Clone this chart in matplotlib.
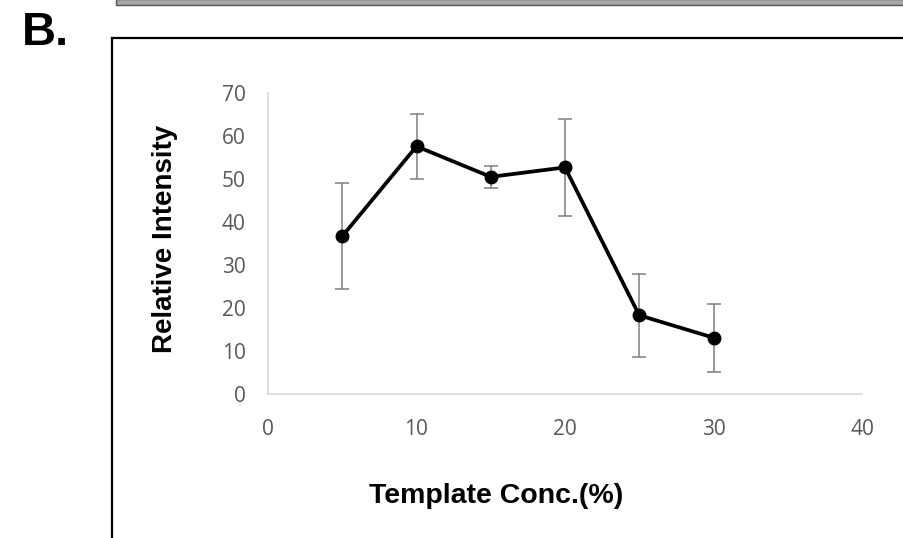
import matplotlib
matplotlib.use("Agg")
import matplotlib.pyplot as plt
from matplotlib.patches import Rectangle
from matplotlib.lines import Line2D

# data
conc = [5, 10, 15, 20, 25, 30]
intensity = [36.7, 57.6, 50.5, 52.7, 18.3, 13.1]
err = [12.3, 7.5, 2.5, 11.3, 9.7, 7.9]
xticks = [0, 10, 20, 30, 40]
yticks = [0, 10, 20, 30, 40, 50, 60, 70]

W, H = 904, 538
fig = plt.figure(figsize=(W / 100, H / 100), dpi=100)

# axes placed in pixel terms: x 268..862, y 93..394
ax = fig.add_axes([268 / W, 1 - 394 / H, (862 - 268) / W, (394 - 93) / H])
ax.errorbar(conc, intensity, yerr=err, color="black", lw=2.7,
            marker="o", ms=9, ecolor="#7f7f7f", elinewidth=1.1,
            capsize=5, capthick=1.1, zorder=3)
ax.set_xlim(0, 40)
ax.set_ylim(0, 70)
ax.set_xticks(xticks)
ax.set_yticks(yticks)
for s in ["top", "right"]:
    ax.spines[s].set_visible(False)
for s in ["left", "bottom"]:
    ax.spines[s].set_color("#d9d9d9")
    ax.spines[s].set_linewidth(1.2)
ax.tick_params(length=0, labelsize=15, labelcolor="#595959")
ax.tick_params(axis="y", pad=16)
ax.tick_params(axis="x", pad=18)
for lab in ax.get_xticklabels() + ax.get_yticklabels():
    lab.set_family("Open Sans")
ax.patch.set_alpha(0)

ax.set_ylabel("Relative Intensity", fontsize=20, fontweight="bold",
              family="Liberation Sans", labelpad=0)
ax.yaxis.set_label_coords((178 - 268) / (862 - 268), (394 - 239) / (394 - 93))
ax.set_xlabel("Template Conc.(%)", fontsize=20.5, fontweight="bold",
              family="Liberation Sans")
ax.xaxis.set_label_coords((496 - 268) / (862 - 268), -(483 - 394) / (394 - 93))

# panel frame and the edge of the panel above
fig.add_artist(Line2D([112 / W, 112 / W], [0, 1 - 38 / H], color="black", lw=1.6))
fig.add_artist(Line2D([112 / W, 1], [1 - 38 / H, 1 - 38 / H], color="black", lw=1.6))
fig.add_artist(Rectangle((116 / W, 1 - 5 / H), 1, 6 / H, facecolor="#a6a6a6",
                         edgecolor="#555555", lw=1.0))

fig.text(22 / W, 1 - 33 / H, "B.", fontsize=34, fontweight="bold",
         family="Liberation Sans", va="center", ha="left")

fig.savefig("out.png", dpi=100)
